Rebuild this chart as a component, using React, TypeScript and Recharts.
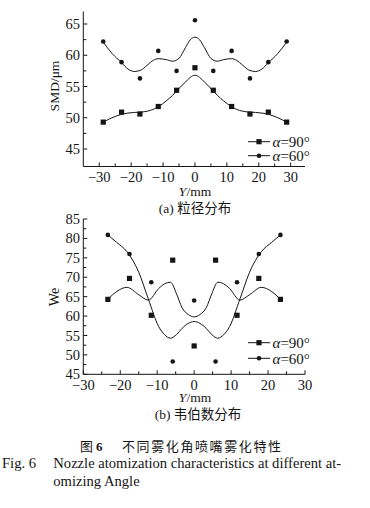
import React from 'react';
import { ComposedChart, Line, Scatter, XAxis, YAxis, Legend } from 'recharts';

const SERIF = '"Liberation Serif", "DejaVu Serif", "Times New Roman", serif';
const CJK = '"Noto Sans CJK SC", "Noto Sans CJK JP", sans-serif';
const INK = '#151515';

// ---------- (a) SMD ----------
const smdX = [-28.75, -23, -17.25, -11.5, -5.75, 0, 5.75, 11.5, 17.25, 23, 28.75];
const smd90 = [49.3, 50.9, 50.6, 51.8, 54.4, 58.0, 54.4, 51.8, 50.6, 50.9, 49.3];
const smd60 = [62.2, 58.9, 56.3, 60.7, 57.5, 65.6, 57.5, 60.7, 56.3, 58.9, 62.2];

const smdFitX = [-28.75, -26, -23, -21, -19, -17, -15, -13, -11.5, -9, -7, -5, -3, -1.5, 0,
  1.5, 3, 5, 7, 9, 11.5, 13, 15, 17, 19, 21, 23, 26, 28.75];
const smdFit90 = [49.3, 50.0, 50.55, 50.75, 50.85, 50.9, 51.05, 51.35, 51.75, 52.7, 53.6, 54.7, 55.7, 56.45, 56.8,
  56.45, 55.7, 54.7, 53.6, 52.7, 51.75, 51.35, 51.05, 50.9, 50.85, 50.75, 50.55, 50.0, 49.3];
const smdFit60 = [62.1, 60.3, 58.8, 57.8, 57.4, 57.6, 58.4, 59.2, 59.45, 59.3, 59.05, 59.5, 61.2, 62.45, 62.9,
  62.45, 61.2, 59.5, 59.05, 59.3, 59.45, 59.2, 58.4, 57.6, 57.4, 57.8, 58.8, 60.3, 62.1];

const smdXTicks = [-30, -25, -20, -15, -10, -5, 0, 5, 10, 15, 20, 25, 30];
const smdYTicks = [45, 47.5, 50, 52.5, 55, 57.5, 60, 62.5, 65];

// ---------- (b) We ----------
const weX = [-23.35, -17.5, -11.6, -5.8, 0, 5.8, 11.6, 17.5, 23.35];
const we90 = [64.3, 69.7, 60.2, 74.4, 52.3, 74.4, 60.2, 69.7, 64.3];
const we60 = [80.9, 76.0, 68.7, 48.3, 64.0, 48.3, 68.7, 76.0, 80.9];

const weFitX = [-23.35, -21, -18.2, -15, -12.4, -9.6, -8, -6.4, -4.8, -3.3, -1.6, 0,
  1.6, 3.3, 4.8, 6.4, 8, 9.6, 12.4, 15, 18.2, 21, 23.35];
const weFit90 = [64.3, 66.3, 67.4, 65.5, 64.1, 67.1, 68.3, 68.7, 65.8, 62.2, 60.4, 59.8,
  60.4, 62.2, 65.8, 68.7, 68.3, 67.1, 64.1, 65.5, 67.4, 66.3, 64.3];
const weFit60 = [80.9, 79.0, 76.6, 71.3, 64.4, 57.3, 55.2, 54.3, 55.2, 56.8, 58.1, 58.6,
  58.1, 56.8, 55.2, 54.3, 55.2, 57.3, 64.4, 71.3, 76.6, 79.0, 80.9];

const weXTicks = [-30, -25, -20, -15, -10, -5, 0, 5, 10, 15, 20, 25, 30];
const weYTicks = [45, 47.5, 50, 52.5, 55, 57.5, 60, 62.5, 65, 67.5, 70, 72.5, 75, 77.5, 80, 82.5, 85];

const legendItems = [
  { label: '=90°', marker: 'square' },
  { label: '=60°', marker: 'circle' },
];

const toXY = (xs: number[], ys: number[]) => xs.map((x, i) => ({ x, y: ys[i] }));

const fmt = (v: number) => (v < 0 ? '\u2212' + Math.abs(v) : String(v));

const XTick = (props: any) => {
  const { x, y, payload } = props;
  const v = payload.value;
  const major = Math.abs(v % 10) < 1e-6;
  return (
    <g>
      <line x1={x} x2={x} y1={y} y2={y - (major ? 4 : 3)} stroke={INK} strokeWidth={1} />
      {major && (
        <text x={x} y={y + 10.3} dy="0.35em" textAnchor="middle" fontFamily={SERIF} fontSize={14.5} fill={INK}>
          {fmt(v)}
        </text>
      )}
    </g>
  );
};

const YTick = (props: any) => {
  const { x, y, payload } = props;
  const v = payload.value;
  const major = Math.abs(v % 5) < 1e-6;
  return (
    <g>
      <line x1={x} x2={x + (major ? 4 : 3)} y1={y} y2={y} stroke={INK} strokeWidth={1} />
      {major && (
        <text x={x - 3.2} y={y} dy="0.35em" textAnchor="end" fontFamily={SERIF} fontSize={14.5} fill={INK}>
          {v}
        </text>
      )}
    </g>
  );
};

const SquareDot = (p: any) => <rect x={p.cx - 2.6} y={p.cy - 2.6} width={5.2} height={5.2} fill={INK} />;
const CircleDot = (p: any) => <circle cx={p.cx} cy={p.cy} r={2.3} fill={INK} />;

const LegendBox = ({ rowGap }: { rowGap: number }) => (
  <svg width={110} height={40} style={{ overflow: 'visible', display: 'block' }}>
    {legendItems.map((it, i) => {
      const cy = 7.7 + i * rowGap;
      return (
        <g key={i}>
          <line x1={2} x2={24} y1={cy} y2={cy} stroke={INK} strokeWidth={1} />
          {it.marker === 'square' ? (
            <rect x={13 - 2.6} y={cy - 2.6} width={5.2} height={5.2} fill={INK} />
          ) : (
            <circle cx={13} cy={cy} r={2.3} fill={INK} />
          )}
          <text x={26.5} y={cy} dy="0.35em" fontFamily={SERIF} fontSize={15} fill={INK}>
            <tspan fontStyle="italic">α</tspan>
            {it.label}
          </text>
        </g>
      );
    })}
  </svg>
);

const T = ({ cx, cy, children, style }: any) => (
  <div
    style={{
      position: 'absolute',
      left: cx,
      top: cy,
      transform: 'translate(-50%, -50%)',
      whiteSpace: 'nowrap',
      lineHeight: 1,
      color: INK,
      ...style,
    }}
  >
    {children}
  </div>
);

const L = ({ x, cy, children, style }: any) => (
  <div
    style={{
      position: 'absolute',
      left: x,
      top: cy,
      transform: 'translateY(-50%)',
      whiteSpace: 'nowrap',
      lineHeight: 1,
      color: INK,
      ...style,
    }}
  >
    {children}
  </div>
);

export default function App() {
  const smdPts90 = toXY(smdX, smd90);
  const smdPts60 = toXY(smdX, smd60);
  const smdLine90 = toXY(smdFitX, smdFit90);
  const smdLine60 = toXY(smdFitX, smdFit60);
  const wePts90 = toXY(weX, we90);
  const wePts60 = toXY(weX, we60);
  const weLine90 = toXY(weFitX, weFit90);
  const weLine60 = toXY(weFitX, weFit60);

  return (
    <div style={{ position: 'absolute', left: 0, top: 0, width: 370, height: 508, background: '#fff', overflow: 'hidden' }}>
      {/* chart (a) */}
      <div style={{ position: 'absolute', left: 0, top: 0 }}>
        <ComposedChart width={370} height={200} margin={{ top: 11.5, right: 65, bottom: 3.5, left: 23.3 }}>
          <XAxis
            type="number"
            dataKey="x"
            domain={[-35, 34.5]}
            ticks={smdXTicks}
            interval={0}
            allowDataOverflow
            tickSize={0}
            tickMargin={0}
            tickLine={false}
            axisLine={{ stroke: INK, strokeWidth: 1 }}
            tick={<XTick />}
            height={30}
          />
          <YAxis
            type="number"
            dataKey="y"
            domain={[42.2, 67]}
            ticks={smdYTicks}
            interval={0}
            allowDataOverflow
            tickSize={0}
            tickMargin={0}
            tickLine={false}
            axisLine={{ stroke: INK, strokeWidth: 1 }}
            tick={<YTick />}
            width={60}
          />
          <Line data={smdLine90} dataKey="y" type="monotone" stroke={INK} strokeWidth={1} dot={false} isAnimationActive={false} legendType="none" />
          <Line data={smdLine60} dataKey="y" type="monotone" stroke={INK} strokeWidth={1} dot={false} isAnimationActive={false} legendType="none" />
          <Scatter data={smdPts90} dataKey="y" name="α=90°" shape={SquareDot} isAnimationActive={false} />
          <Scatter data={smdPts60} dataKey="y" name="α=60°" shape={CircleDot} isAnimationActive={false} />
          <Legend
            layout="vertical"
            align="center"
            verticalAlign="middle"
            content={() => <LegendBox rowGap={14} />}
            wrapperStyle={{ left: 246, top: 134, width: 110, height: 30 }}
          />
        </ComposedChart>
      </div>
      <T cx={55} cy={86} style={{ fontFamily: SERIF, fontSize: 13.5, transform: 'translate(-50%, -50%) rotate(-90deg)' }}>
        SMD/μm
      </T>
      <T cx={195} cy={191.5} style={{ fontFamily: SERIF, fontSize: 13.5 }}>
        <i>Y</i>/mm
      </T>
      <T cx={195} cy={208} style={{ fontSize: 13.5 }}>
        <span style={{ fontFamily: SERIF }}>(a) </span>
        <span style={{ fontFamily: CJK }}>粒径分布</span>
      </T>

      {/* chart (b) */}
      <div style={{ position: 'absolute', left: 0, top: 210 }}>
        <ComposedChart width={370} height={195} margin={{ top: 9, right: 65, bottom: 0.7, left: 23.3 }}>
          <XAxis
            type="number"
            dataKey="x"
            domain={[-30, 30]}
            ticks={weXTicks}
            interval={0}
            allowDataOverflow
            tickSize={0}
            tickMargin={0}
            tickLine={false}
            axisLine={{ stroke: INK, strokeWidth: 1 }}
            tick={<XTick />}
            height={30}
          />
          <YAxis
            type="number"
            dataKey="y"
            domain={[45, 85]}
            ticks={weYTicks}
            interval={0}
            allowDataOverflow
            tickSize={0}
            tickMargin={0}
            tickLine={false}
            axisLine={{ stroke: INK, strokeWidth: 1 }}
            tick={<YTick />}
            width={60}
          />
          <Line data={weLine90} dataKey="y" type="monotone" stroke={INK} strokeWidth={1} dot={false} isAnimationActive={false} legendType="none" />
          <Line data={weLine60} dataKey="y" type="monotone" stroke={INK} strokeWidth={1} dot={false} isAnimationActive={false} legendType="none" />
          <Scatter data={wePts90} dataKey="y" name="α=90°" shape={SquareDot} isAnimationActive={false} />
          <Scatter data={wePts60} dataKey="y" name="α=60°" shape={CircleDot} isAnimationActive={false} />
          <Legend
            layout="vertical"
            align="center"
            verticalAlign="middle"
            content={() => <LegendBox rowGap={15.6} />}
            wrapperStyle={{ left: 246, top: 125, width: 110, height: 32 }}
          />
        </ComposedChart>
      </div>
      <T cx={55} cy={296.7} style={{ fontFamily: SERIF, fontSize: 14, transform: 'translate(-50%, -50%) rotate(-90deg)' }}>
        We
      </T>
      <T cx={195} cy={398} style={{ fontFamily: SERIF, fontSize: 13.5 }}>
        <i>Y</i>/mm
      </T>
      <T cx={198} cy={414} style={{ fontSize: 13.5 }}>
        <span style={{ fontFamily: SERIF }}>(b) </span>
        <span style={{ fontFamily: CJK }}>韦伯数分布</span>
      </T>

      {/* captions */}
      <L x={80} cy={445} style={{ fontFamily: CJK, fontSize: 13 }}>图</L>
      <L x={96} cy={446} style={{ fontFamily: SERIF, fontSize: 13, fontWeight: 'bold' }}>6</L>
      <L x={122} cy={445} style={{ fontFamily: CJK, fontSize: 13, letterSpacing: 1.6 }}>不同雾化角喷嘴雾化特性</L>
      <L x={2} cy={462.7} style={{ fontFamily: SERIF, fontSize: 14.6 }}>Fig. 6</L>
      <L x={53.3} cy={462.7} style={{ fontFamily: SERIF, fontSize: 14.6 }}>
        Nozzle atomization characteristics at different at-
      </L>
      <L x={53.3} cy={481} style={{ fontFamily: SERIF, fontSize: 14.6 }}>omizing Angle</L>
    </div>
  );
}
